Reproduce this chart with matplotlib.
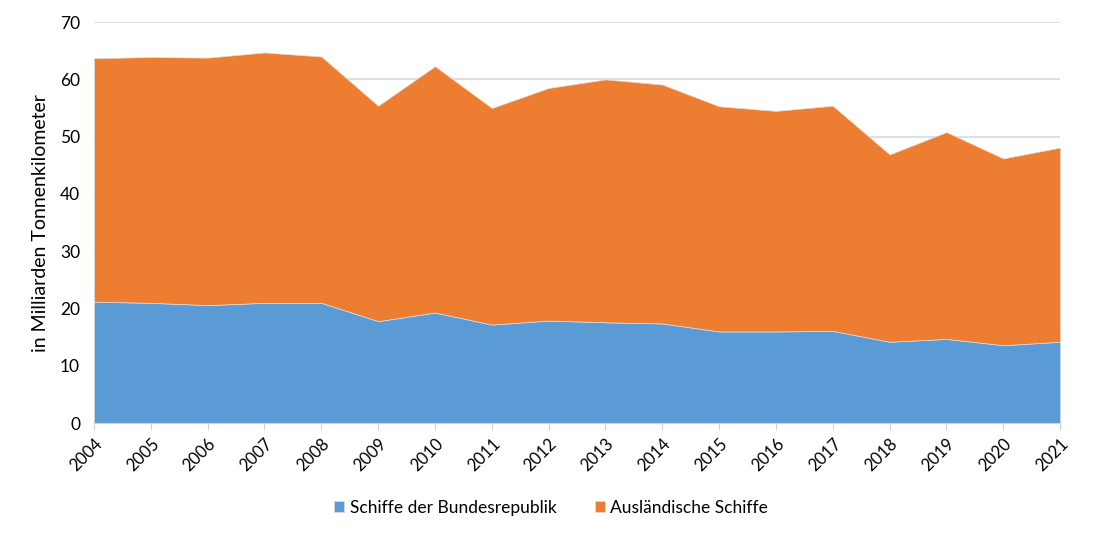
import numpy as np
import matplotlib.pyplot as plt

years = list(range(2004, 2022))
# total (top edge) and German ships (lower band)
total = [63.7, 63.9, 63.8, 64.7, 64.0, 55.4, 62.3, 55.0, 58.5, 60.0,
         59.1, 55.3, 54.5, 55.4, 46.9, 50.8, 46.2, 48.1]
german = [21.2, 21.0, 20.6, 21.0, 21.0, 17.8, 19.3, 17.2, 17.9, 17.6,
          17.4, 16.0, 16.0, 16.1, 14.2, 14.7, 13.6, 14.2]
foreign = [round(t - g, 1) for t, g in zip(total, german)]

labels = ["Schiffe der Bundesrepublik", "Ausländische Schiffe"]
colors = ["#5b9bd5", "#ed7d31"]

plt.rcParams['font.family'] = ['Lato', 'DejaVu Sans']

fig = plt.figure(figsize=(11.02, 5.39), dpi=100)
ax = fig.add_axes([0.0853, 0.215, 0.8767, 0.744])

ax.stackplot(years, german, foreign, labels=labels, colors=colors,
             edgecolor="#dddddd", linewidth=0.5)

ax.set_xlim(2004, 2021)
ax.set_ylim(0, 70)
ax.set_yticks(range(0, 71, 10))
ax.set_xticks(years)
ax.set_xticklabels([str(y) for y in years], rotation=45, ha="right",
                   rotation_mode="anchor", fontsize=12)
ax.tick_params(axis="y", length=0, labelsize=12.5, pad=10)
ax.tick_params(axis="x", length=5, color="#d0d0d0", pad=4)
ax.grid(axis="y", color="#d9d9d9", linewidth=1.2)
ax.set_axisbelow(True)
for s in ["top", "right", "left"]:
    ax.spines[s].set_visible(False)
ax.spines["bottom"].set_color("#d0d0d0")
ax.set_ylabel("in Milliarden Tonnenkilometer", fontsize=14, labelpad=8)

fig.legend(loc="center", bbox_to_anchor=(0.5, 0.058), ncol=2, frameon=False,
           fontsize=12.5, handlelength=0.6, handleheight=0.6, columnspacing=2.2,
           handletextpad=0.3)

fig.savefig("out.png", dpi=100)
